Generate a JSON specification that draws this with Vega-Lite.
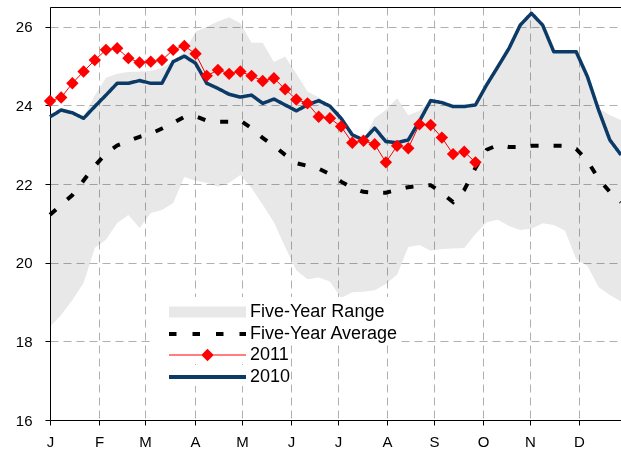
{
  "$schema": "https://vega.github.io/schema/vega-lite/v6.json",
  "width": 571,
  "height": 413,
  "autosize": {"type": "none"},
  "padding": {"left": 50, "top": 7, "right": 0, "bottom": 34},
  "background": "white",
  "config": {
    "view": {"stroke": null},
    "font": "Liberation Sans",
    "axis": {
      "labelFont": "Liberation Sans",
      "labelFontSize": 15,
      "labelColor": "#000000",
      "domainColor": "#000000",
      "tickColor": "#000000",
      "tickSize": 5,
      "gridColor": "#b0b0b0",
      "gridDash": [8, 5],
      "gridWidth": 1,
      "title": null
    },
    "legend": {
      "orient": "none",
      "title": null,
      "labelFont": "Liberation Sans",
      "labelFontSize": 18,
      "labelColor": "#000000",
      "labelLimit": 600,
      "fillColor": "#ffffff",
      "strokeColor": null,
      "symbolSize": 400,
      "symbolOpacity": 1
    }
  },
  "data": {
    "values": [
      {"week": 0, "lo": 18.37, "hi": 23.75, "avg": 21.22, "y2011": 24.11, "y2010": 23.71},
      {"week": 1, "lo": 18.67, "hi": 23.9, "avg": 21.47, "y2011": 24.2, "y2010": 23.88},
      {"week": 2, "lo": 19.05, "hi": 23.83, "avg": 21.72, "y2011": 24.56, "y2010": 23.81},
      {"week": 3, "lo": 19.48, "hi": 23.7, "avg": 22.09, "y2011": 24.86, "y2010": 23.67},
      {"week": 4, "lo": 20.37, "hi": 24.25, "avg": 22.46, "y2011": 25.15, "y2010": 23.97},
      {"week": 5, "lo": 20.58, "hi": 24.7, "avg": 22.78, "y2011": 25.41, "y2010": 24.26},
      {"week": 6, "lo": 21.01, "hi": 24.8, "avg": 22.98, "y2011": 25.45, "y2010": 24.56},
      {"week": 7, "lo": 21.21, "hi": 24.85, "avg": 23.09, "y2011": 25.2, "y2010": 24.56},
      {"week": 8, "lo": 20.88, "hi": 24.86, "avg": 23.2, "y2011": 25.09, "y2010": 24.63},
      {"week": 9, "lo": 21.26, "hi": 24.87, "avg": 23.28, "y2011": 25.11, "y2010": 24.56},
      {"week": 10, "lo": 21.34, "hi": 24.95, "avg": 23.41, "y2011": 25.15, "y2010": 24.56},
      {"week": 11, "lo": 21.52, "hi": 25.12, "avg": 23.55, "y2011": 25.41, "y2010": 25.11},
      {"week": 12, "lo": 22.18, "hi": 25.36, "avg": 23.71, "y2011": 25.51, "y2010": 25.25},
      {"week": 13, "lo": 22.08, "hi": 25.87, "avg": 23.72, "y2011": 25.31, "y2010": 25.07},
      {"week": 14, "lo": 22.03, "hi": 26.0, "avg": 23.61, "y2011": 24.75, "y2010": 24.56},
      {"week": 15, "lo": 21.93, "hi": 26.13, "avg": 23.58, "y2011": 24.9, "y2010": 24.43},
      {"week": 16, "lo": 22.03, "hi": 26.24, "avg": 23.58, "y2011": 24.8, "y2010": 24.28},
      {"week": 17, "lo": 22.23, "hi": 26.09, "avg": 23.61, "y2011": 24.86, "y2010": 24.21},
      {"week": 18, "lo": 21.9, "hi": 25.59, "avg": 23.42, "y2011": 24.75, "y2010": 24.26},
      {"week": 19, "lo": 21.47, "hi": 25.59, "avg": 23.17, "y2011": 24.62, "y2010": 24.05},
      {"week": 20, "lo": 21.03, "hi": 25.1, "avg": 22.97, "y2011": 24.69, "y2010": 24.16},
      {"week": 21, "lo": 20.4, "hi": 25.24, "avg": 22.74, "y2011": 24.41, "y2010": 24.01},
      {"week": 22, "lo": 19.81, "hi": 24.8, "avg": 22.53, "y2011": 24.15, "y2010": 23.86},
      {"week": 23, "lo": 19.58, "hi": 24.35, "avg": 22.46, "y2011": 24.05, "y2010": 24.01},
      {"week": 24, "lo": 19.62, "hi": 24.2, "avg": 22.39, "y2011": 23.71, "y2010": 24.12},
      {"week": 25, "lo": 19.52, "hi": 23.98, "avg": 22.25, "y2011": 23.67, "y2010": 23.98},
      {"week": 26, "lo": 19.1, "hi": 23.67, "avg": 22.06, "y2011": 23.46, "y2010": 23.67},
      {"week": 27, "lo": 19.25, "hi": 23.25, "avg": 21.9, "y2011": 23.05, "y2010": 23.25},
      {"week": 28, "lo": 19.26, "hi": 23.12, "avg": 21.8, "y2011": 23.1, "y2010": 23.12},
      {"week": 29, "lo": 19.3, "hi": 23.68, "avg": 21.78, "y2011": 23.01, "y2010": 23.42},
      {"week": 30, "lo": 19.46, "hi": 23.88, "avg": 21.78, "y2011": 22.55, "y2010": 23.08},
      {"week": 31, "lo": 19.69, "hi": 24.18, "avg": 21.85, "y2011": 22.97, "y2010": 23.05},
      {"week": 32, "lo": 20.4, "hi": 23.75, "avg": 21.92, "y2011": 22.91, "y2010": 23.12},
      {"week": 33, "lo": 20.45, "hi": 23.86, "avg": 21.95, "y2011": 23.52, "y2010": 23.6},
      {"week": 34, "lo": 20.3, "hi": 24.12, "avg": 21.97, "y2011": 23.5, "y2010": 24.12},
      {"week": 35, "lo": 20.35, "hi": 24.07, "avg": 21.77, "y2011": 23.18, "y2010": 24.07},
      {"week": 36, "lo": 20.36, "hi": 23.97, "avg": 21.54, "y2011": 22.76, "y2010": 23.97},
      {"week": 37, "lo": 20.37, "hi": 23.97, "avg": 21.85, "y2011": 22.82, "y2010": 23.97},
      {"week": 38, "lo": 20.73, "hi": 24.01, "avg": 22.41, "y2011": 22.55, "y2010": 24.01},
      {"week": 39, "lo": 21.03, "hi": 24.52, "avg": 22.87, "y2011": null, "y2010": 24.52},
      {"week": 40, "lo": 21.09, "hi": 24.98, "avg": 22.99, "y2011": null, "y2010": 24.98},
      {"week": 41, "lo": 20.93, "hi": 25.45, "avg": 22.94, "y2011": null, "y2010": 25.45},
      {"week": 42, "lo": 20.83, "hi": 26.04, "avg": 22.94, "y2011": null, "y2010": 26.04},
      {"week": 43, "lo": 20.86, "hi": 26.34, "avg": 22.97, "y2011": null, "y2010": 26.34},
      {"week": 44, "lo": 21.0, "hi": 26.04, "avg": 22.97, "y2011": null, "y2010": 26.04},
      {"week": 45, "lo": 20.96, "hi": 25.36, "avg": 22.97, "y2011": null, "y2010": 25.36},
      {"week": 46, "lo": 20.81, "hi": 25.36, "avg": 22.97, "y2011": null, "y2010": 25.36},
      {"week": 47, "lo": 20.09, "hi": 25.36, "avg": 22.89, "y2011": null, "y2010": 25.36},
      {"week": 48, "lo": 19.92, "hi": 24.73, "avg": 22.59, "y2011": null, "y2010": 24.73},
      {"week": 49, "lo": 19.38, "hi": 23.93, "avg": 22.13, "y2011": null, "y2010": 23.88},
      {"week": 50, "lo": 19.18, "hi": 23.75, "avg": 21.8, "y2011": null, "y2010": 23.12},
      {"week": 51, "lo": 19.01, "hi": 23.63, "avg": 21.54, "y2011": null, "y2010": 22.74}
    ]
  },
  "resolve": {"axis": {"x": "independent"}},
  "layer": [
    {
      "mark": {"type": "area", "blend": "multiply"},
      "encoding": {
        "x": {
          "field": "week", "type": "quantitative",
          "scale": {"domain": [0, 51], "nice": false, "zero": false},
          "axis": {
            "values": [0, 4.377, 8.486, 12.95, 17.15, 21.53, 25.72, 30.1, 34.3, 38.68, 42.87, 47.25],
            "labelExpr": "['J','F','M','A','M','J','J','A','S','O','N','D'][round(datum.index*11)]",
            "grid": true,
            "labelPadding": 9,
            "labelFlush": false,
            "labelOverlap": false
          }
        },
        "y": {
          "field": "lo", "type": "quantitative",
          "scale": {"domain": [16, 26.5], "nice": false, "zero": false},
          "axis": {
            "values": [16, 18, 20, 22, 24, 26],
            "grid": true,
            "labelPadding": 13
          }
        },
        "y2": {"field": "hi"},
        "fill": {
          "datum": "Five-Year Range",
          "scale": {"range": ["#e8e8e8"]},
          "legend": {
            "legendX": 100,
            "legendY": 290,
            "padding": 5,
            "symbolType": "M-3.85,-0.55L3.85,-0.55L3.85,0.55L-3.85,0.55Z",
            "symbolStrokeWidth": 0,
            "symbolStrokeColor": "transparent",
            "symbolOffset": 42.5,
            "labelOffset": 32.5,
            "labelExpr": "datum.label + '     '"
          }
        }
      }
    },
    {
      "mark": {"type": "line", "strokeWidth": 4, "strokeDash": [8, 15]},
      "encoding": {
        "x": {
          "field": "week", "type": "quantitative",
          "axis": {"orient": "top", "labels": false, "ticks": false, "grid": false, "domain": true, "domainColor": "#000000"}
        },
        "y": {"field": "avg", "type": "quantitative"},
        "stroke": {
          "datum": "Five-Year Average",
          "scale": {"range": ["#000000"]},
          "legend": {
            "legendX": 100,
            "legendY": 315,
            "padding": 0,
            "symbolType": "M-3.85,0L3.85,0",
            "symbolStrokeWidth": 4,
            "symbolDash": [7.5, 16],
            "symbolFillColor": "transparent",
            "symbolOffset": 45.5,
            "labelOffset": 30.5,
            "labelExpr": "datum.label + '    '"
          }
        }
      }
    },
    {
      "mark": {"type": "line", "strokeWidth": 3.5, "strokeJoin": "round", "color": "#0b3a66"},
      "encoding": {
        "x": {"field": "week", "type": "quantitative", "axis": null},
        "y": {"field": "y2010", "type": "quantitative"},
        "strokeDash": {
          "datum": "2010",
          "scale": {"range": [[1, 0]]},
          "legend": {
            "legendX": 100,
            "legendY": 358,
            "padding": 0,
            "symbolType": "M-3.85,0L3.85,0",
            "symbolStrokeWidth": 4,
            "symbolStrokeColor": "#0b3a66",
            "symbolFillColor": "transparent",
            "symbolOffset": 45.5,
            "labelOffset": 30.5,
            "labelExpr": "datum.label + '                          '"
          }
        }
      }
    },
    {
      "mark": {"type": "line", "strokeWidth": 1, "color": "#ff0000"},
      "encoding": {
        "x": {"field": "week", "type": "quantitative", "axis": null},
        "y": {"field": "y2011", "type": "quantitative"}
      }
    },
    {
      "mark": {"type": "point", "filled": true, "opacity": 1, "size": 400, "color": "#ff0000", "shape": "M-0.62,0L0,-0.62L0.62,0L0,0.62Z"},
      "encoding": {
        "x": {"field": "week", "type": "quantitative", "axis": null},
        "y": {"field": "y2011", "type": "quantitative"},
        "opacity": {
          "datum": "2011",
          "scale": {"range": [1, 1]},
          "legend": {
            "legendX": 100,
            "legendY": 338,
            "padding": 0,
            "symbolType": "M-3.85,-0.05L3.85,-0.05L3.85,0.05L-3.85,0.05ZM-0.62,0L0,-0.62L0.62,0L0,0.62Z",
            "symbolStrokeWidth": 0,
            "symbolFillColor": "#ff0000",
            "symbolOffset": 47.5,
            "labelOffset": 32.5,
            "labelExpr": "datum.label + '                          '"
          }
        }
      }
    }
  ]
}
